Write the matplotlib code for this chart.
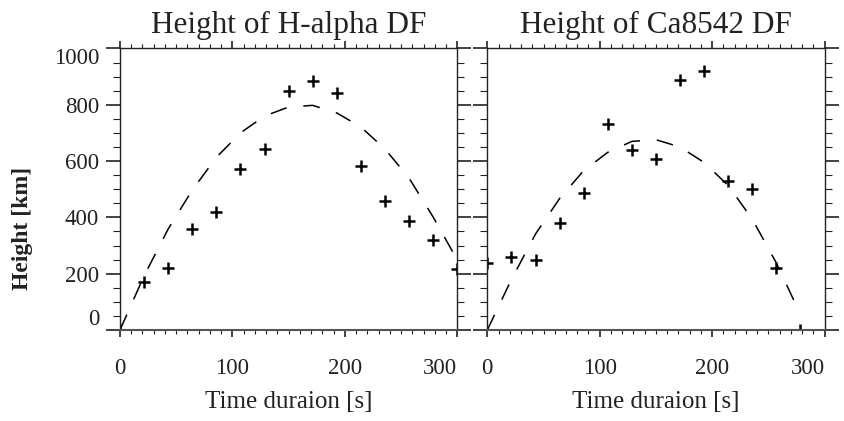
import matplotlib.pyplot as plt
from matplotlib.ticker import MultipleLocator

plt.rcParams['font.family'] = ['Liberation Serif', 'DejaVu Serif']

# time of each measurement [s]
times = [0, 21.4, 42.9, 64.3, 85.7, 107.1, 128.6, 150.0, 171.4,
         192.9, 214.3, 235.7, 257.1, 278.6, 300.0]

# H-alpha heights and fitted curve [km]
ha_height = [0, 172, 219, 360, 419, 572, 642, 849, 885,
             841, 583, 459, 388, 320, 216]
ha_fit = [0, 192, 359, 497, 613, 700, 760, 792, 798,
          771, 721, 643, 540, 401, 249]

# Ca8542 heights and fitted curve [km] (one point fewer)
ca_height = [237, 258, 249, 381, 486, 732, 639, 606, 888,
             921, 530, 500, 221, 0]
ca_fit = [0, 179, 341, 467, 566, 631, 670, 676, 650,
          595, 513, 394, 238, 55]

titles = ["Height of H-alpha DF", "Height of Ca8542 DF"]
xticks = [0, 100, 200, 300]
yticks = [0, 200, 400, 600, 800, 1000]

fig = plt.figure(figsize=(8.45, 4.21), dpi=100)
ax1 = fig.add_axes([0.142, 0.2162, 0.3991, 0.6686])
ax2 = fig.add_axes([0.5767, 0.2162, 0.3991, 0.6686])

series = [(ax1, times, ha_height, ha_fit), (ax2, times[:len(ca_height)], ca_height, ca_fit)]

for i, (ax, t, h, f) in enumerate(series):
    ax.plot(t, f, color='black', lw=1.1, dashes=(11, 11))
    ax.plot(t, h, ls='none', marker='+', ms=8, mew=1.8, color='black')
    ax.set_xlim(0, 300)
    ax.set_ylim(0, 1000)
    ax.set_xticks(xticks)
    ax.set_yticks(yticks)
    ax.xaxis.set_minor_locator(MultipleLocator(10))
    ax.yaxis.set_minor_locator(MultipleLocator(50))
    ax.tick_params(which='both', direction='out', top=True, right=True,
                   color='#222', labelsize=16.5, labelcolor='#222')
    ax.tick_params(axis='x', which='major', length=5, width=1.2, pad=15)
    ax.tick_params(axis='x', which='minor', length=3, width=0.8)
    ax.tick_params(axis='y', which='major', length=10, width=1.2, pad=5)
    ax.tick_params(axis='y', which='minor', length=5, width=0.8)
    for s in ax.spines.values():
        s.set_linewidth(1.0)
        s.set_color('#222')
    ax.spines['bottom'].set_linewidth(1.5)
    ax.spines['bottom'].set_color('#555')
    ax.set_title(titles[i], fontsize=22.5, color='#222', y=1.055, pad=0)
    ax.set_xlabel("Time duraion [s]", fontsize=18, color='#222')
    ax.xaxis.set_label_coords(0.5, -0.218)
    if i == 0:
        ax.set_yticklabels([str(v) for v in yticks])
        ylabs = ax.get_yticklabels()
        ylabs[0].set_va('bottom')
        ylabs[-1].set_va('top')
        ax.set_ylabel("Height [km]", fontsize=17, fontweight='bold', color='#222')
        ax.yaxis.set_label_coords(-0.258, 0.36)
    else:
        ax.set_yticklabels([])
    ax.set_xticklabels([str(v) for v in xticks])
    xlabs = ax.get_xticklabels()
    xlabs[-1].set_ha('right')

fig.savefig("out.png", dpi=100)
